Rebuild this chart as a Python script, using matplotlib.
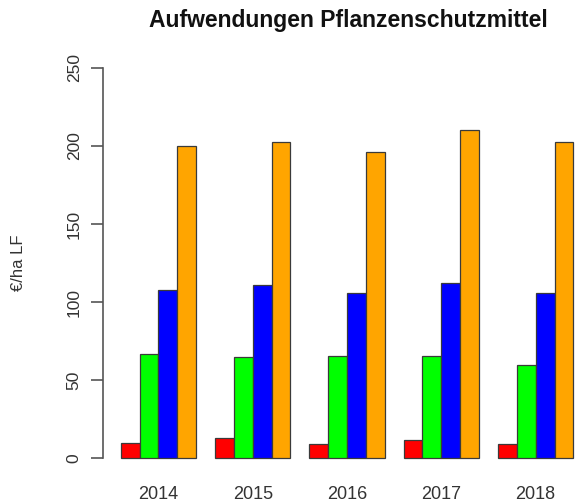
import matplotlib
matplotlib.use("Agg")
import matplotlib.pyplot as plt
import numpy as np

plt.rcParams['font.family'] = ['Liberation Sans', 'DejaVu Sans']

years = ["2014", "2015", "2016", "2017", "2018"]
series_red = [10, 13, 9, 12, 9]
series_green = [67, 65, 65.5, 65.5, 60]
series_blue = [107.5, 111, 105.5, 112, 106]
series_orange = [200, 202.5, 196, 210, 202.5]
series = [series_red, series_green, series_blue, series_orange]
colors = ["#FF0000", "#00FF00", "#0000FF", "#FFA500"]
yticks = [0, 50, 100, 150, 200, 250]

fig = plt.figure(figsize=(5.77, 5.04), dpi=100)
ax = fig.add_axes([0.1778, 0.0597, 0.8473, 0.8369])

n = len(years)
base = 1 + 5 * np.arange(n)
for j, (vals, c) in enumerate(zip(series, colors)):
    ax.bar(base + j, vals, width=1.0, align='edge', color=c,
           edgecolor='#3a3a3a', linewidth=0.9)

ax.set_xlim(0.04, 25.96)
ax.set_ylim(-10, 260)
for s in ['top', 'right', 'bottom']:
    ax.spines[s].set_visible(False)
ax.spines['left'].set_bounds(0, 250)
ax.spines['left'].set_color('#555555')
ax.spines['left'].set_linewidth(1.2)

ax.set_yticks(yticks)
ax.set_yticklabels([str(v) for v in yticks], rotation=90, va='center')
ax.tick_params(axis='y', length=9, width=1.2, color='#555555',
               labelsize=12.5, labelcolor='#333333', pad=6)
ax.set_xticks(base + 2)
ax.set_xticklabels(years)
ax.tick_params(axis='x', length=0, labelsize=13, labelcolor='#333333', pad=9)

ax.set_ylabel("€/ha LF", fontsize=12, color='#333333', labelpad=29)
fig.text(0.603, 0.96, "Aufwendungen Pflanzenschutzmittel", ha='center', va='center',
         fontsize=16.5, fontweight='bold', color='#111111')

fig.savefig("out.png", dpi=100)
